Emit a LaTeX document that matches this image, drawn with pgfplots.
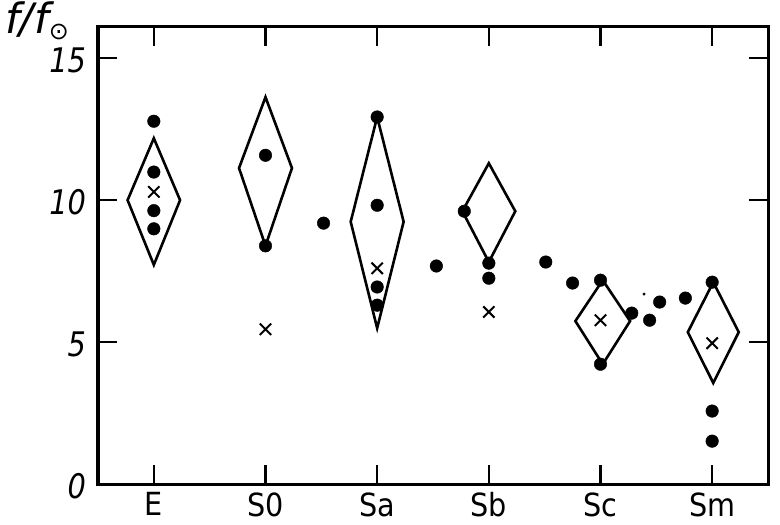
\documentclass[border=0pt]{standalone}
\usepackage{fontspec}
\setmainfont{DejaVu Sans}
\usepackage{pgfplots}
\pgfplotsset{compat=1.18}
\begin{document}
\begin{tikzpicture}
\begin{axis}[name=ax, at={(0,0)}, anchor=south west,
  scale only axis, width=670bp, height=457bp,
  xmin=-0.5, xmax=5.5, ymin=0, ymax=16.1,
  xtick={0,1,2,3,4,5}, xticklabels={E,S0,Sa,Sb,Sc,Sm},
  ytick={0,5,10,15},
  tick align=inside, major tick length=19bp,
  xtick pos=both, ytick pos=both,
  xticklabel pos=left, yticklabel pos=left,
  axis line style={line width=3bp},
  every tick/.style={line width=2.2bp, black},
  /pgf/number format/assume math mode=true,
  xticklabel style={font=\fontsize{32}{32}\selectfont, yshift=-5bp, xscale=0.9},
  yticklabel style={font=\fontsize{34}{34}\selectfont\itshape, xshift=-9bp, yshift=-2bp, xscale=0.85},
  clip=false,
]
% diamonds
\addplot[black, line width=2.6bp, line join=miter, mark=none] coordinates {(0,12.18) (0.235,10.0) (0,7.72) (-0.235,10.0)} -- cycle;
\addplot[black, line width=2.6bp, line join=miter, mark=none] coordinates {(1,13.63) (1.237,11.13) (1,8.39) (0.763,11.13)} -- cycle;
\addplot[black, line width=2.6bp, line join=miter, mark=none] coordinates {(2,12.93) (2.237,9.24) (2,5.49) (1.763,9.24)} -- cycle;
\addplot[black, line width=2.6bp, line join=miter, mark=none] coordinates {(3,11.3) (3.237,9.61) (3,7.82) (2.763,9.61)} -- cycle;
\addplot[black, line width=2.6bp, line join=miter, mark=none] coordinates {(4.02,7.18) (4.265,5.74) (4.02,4.22) (3.775,5.74)} -- cycle;
\addplot[black, line width=2.6bp, line join=miter, mark=none] coordinates {(5.01,7.11) (5.238,5.35) (5.01,3.56) (4.782,5.35)} -- cycle;
% dots
\addplot[only marks, mark=*, mark size=6.3bp, black] coordinates {
 (0,12.78) (0,10.99) (0,9.63) (0,8.99)
 (1,11.58) (1,8.39)
 (1.52,9.19)
 (2,12.93) (2,9.82) (2,6.94) (2,6.3)
 (2.53,7.68)
 (2.78,9.61) (3,7.78) (3,7.25)
 (3.51,7.82) (3.75,7.08)
 (4,7.18) (4,4.22)
 (4.28,6.02) (4.44,5.77) (4.53,6.41) (4.76,6.55)
 (5,7.11) (5,2.57) (5,1.51)
};
\addplot[only marks, mark=*, mark size=1.3bp, black] coordinates {(4.39,6.69)};
% crosses
\addplot[only marks, mark=x, mark size=8bp, black, line width=2bp] coordinates {
 (0,10.29) (1,5.45) (2,7.6) (3,6.06) (4,5.77) (5,4.96)
};
\end{axis}
\node[anchor=north west, inner sep=0pt, font=\fontsize{42}{42}\selectfont\itshape] at ([shift={(-93bp,25bp)}]ax.north west) {f/f\raisebox{-6bp}{\upshape\fontsize{24}{24}\selectfont ⊙}};
\pgfresetboundingbox
\path ([shift={(-98bp,-41bp)}]ax.south west) rectangle ++(780bp,525bp);
\end{tikzpicture}
\end{document}
